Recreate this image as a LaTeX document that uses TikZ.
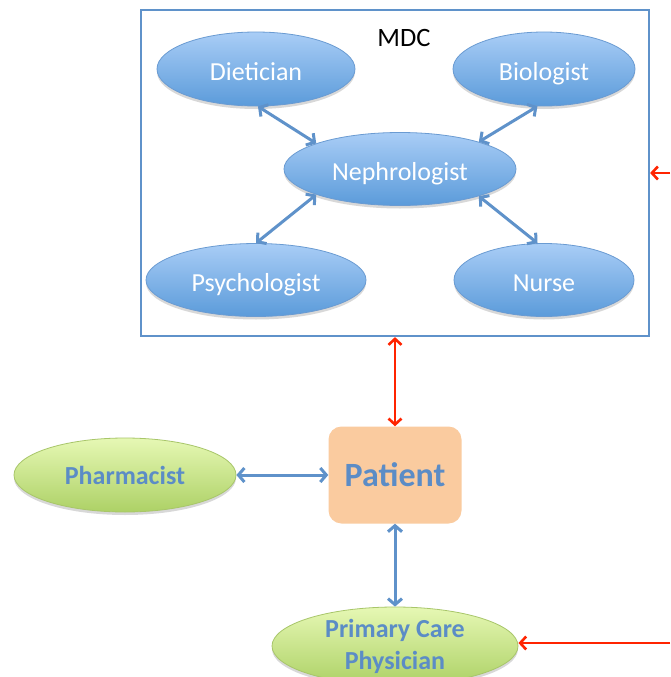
\documentclass[tikz,border=0pt]{standalone}
\usepackage{fontspec}
\setmainfont{Carlito}
\usetikzlibrary{shapes.geometric,arrows.meta,shadows}
\definecolor{elltop}{HTML}{A9CDF6}
\definecolor{ellbot}{HTML}{5B9BDA}
\definecolor{ellline}{HTML}{6A9BD2}
\definecolor{grtop}{HTML}{E6F8B4}
\definecolor{grbot}{HTML}{ADD166}
\definecolor{grline}{HTML}{A8C66A}
\definecolor{peach}{HTML}{FACB9F}
\definecolor{linkblue}{HTML}{5F92CA}
\definecolor{txtblue}{HTML}{5B8CC6}
\definecolor{linkred}{HTML}{FF2400}
\tikzset{
  bluell/.style={ellipse, draw=ellline, line width=0.8pt, top color=elltop, bottom color=ellbot,
    inner sep=0pt, text=white, font=\fontsize{26}{28}\selectfont, text height=24pt, text depth=1pt,
    drop shadow={shadow xshift=0pt, shadow yshift=-3pt, opacity=0.3}},
  greenell/.style={ellipse, draw=grline, line width=0.8pt, top color=grtop, bottom color=grbot,
    inner sep=0pt, text=txtblue, font=\fontsize{26}{32}\selectfont\bfseries, align=center,
    drop shadow={shadow xshift=0pt, shadow yshift=-3pt, opacity=0.3}},
  mdcbox/.style={draw=linkblue, line width=2.2pt, inner sep=0pt},
  patbox/.style={fill=peach, rounded corners=13pt, inner sep=0pt, text=txtblue,
    font=\fontsize{34}{36}\selectfont\bfseries},
  bluelink/.style={draw=linkblue, line width=3pt, {Straight Barb[length=6pt,width=14pt]}-{Straight Barb[length=6pt,width=14pt]}},
  redboth/.style={draw=linkred, line width=2.6pt, {Straight Barb[length=6pt,width=13pt]}-{Straight Barb[length=6pt,width=13pt]}},
  redone/.style={draw=linkred, line width=2.6pt, -{Straight Barb[length=6pt,width=13pt]}},
}
\begin{document}
\begin{tikzpicture}[x=1pt,y=-1pt]
\useasboundingbox (0,0) rectangle (670,677);
\fill[white] (0,0) rectangle (670,677);
\node[mdcbox, minimum width=508pt, minimum height=326pt] (mdc) at (395,173) {};
\node[font=\fontsize{26.5}{28}\selectfont] (mdclabel) at (404,38) {MDC};
\node[bluell, minimum width=198pt, minimum height=74pt] (diet) at (256,69) {Dietician};
\node[bluell, minimum width=182pt, minimum height=74pt] (bio) at (544,69) {Biologist};
\node[bluell, minimum width=232pt, minimum height=73pt] (neph) at (400,169) {Nephrologist};
\node[bluell, minimum width=220pt, minimum height=73pt] (psy) at (256,280) {Psychologist};
\node[bluell, minimum width=180pt, minimum height=73pt] (nurse) at (544,280) {Nurse};
\draw[bluelink] (diet.-87) -- (neph.163);
\draw[bluelink] (bio.-100) -- (neph.19);
\draw[bluelink] (psy.90) -- (neph.197);
\draw[bluelink] (nurse.100) -- (neph.341);
\node[patbox, minimum width=133pt, minimum height=97pt] (pat) at (395,475) {Patient};
\node[greenell, minimum width=222pt, minimum height=74pt] (pharm) at (125,475) {Pharmacist};
\node[greenell, minimum width=246pt, minimum height=78pt] (pcp) at (395,646) {Primary Care\\Physician};
\coordinate (redA) at (670,173);
\coordinate (redB) at (670,643);
\draw[redboth] (mdc.south) -- (pat.north);
\draw[redone] (redA) -- (mdc.east);
\draw[redone] (redB) -- (pcp.east |- redB);
\draw[bluelink] (pharm.east) -- (pat.west);
\draw[bluelink] (pat.south) -- (pcp.north);
\end{tikzpicture}
\end{document}
